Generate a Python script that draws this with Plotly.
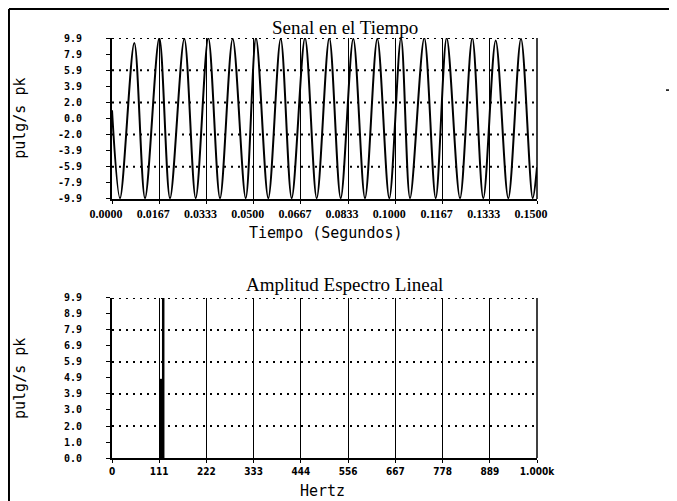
import plotly.graph_objects as go

# ---------------- data ----------------
# time signal: vertices (seconds, pulg/s pk)
time_s = [0.0000, 0.00282, 0.00787, 0.01165, 0.01669, 0.02047, 0.02552, 0.02954,
          0.03399, 0.03812, 0.04260, 0.04719, 0.05082, 0.05516, 0.05954, 0.06342,
          0.06812, 0.07225, 0.07669, 0.08072, 0.08516, 0.08929, 0.09364, 0.09787,
          0.10200, 0.10518, 0.11022, 0.11425, 0.11813, 0.12282, 0.12716, 0.13105,
          0.13542, 0.13987, 0.14435, 0.14848, 0.15000]
signal = [1.0, -9.8, 9.3, -9.8, 9.9, -9.8, 9.8, -9.8,
          9.9, -9.8, 9.8, -9.8, 9.9, -9.8, 9.8, -9.8,
          9.9, -9.8, 9.9, -9.8, 9.8, -9.8, 9.8, -9.8,
          9.9, -9.8, 9.9, -9.8, 9.9, -9.8, 9.9, -9.8,
          9.6, -9.8, 9.8, -9.8, -6.0]

# spectrum lines
freq_hz = [115.0, 120.5]
amp = [4.9, 9.9]

# axes
t_tickvals = [0.0, 0.016667, 0.033333, 0.05, 0.066667, 0.083333, 0.1, 0.116667, 0.133333, 0.15]
t_ticktext = ["0.0000", "0.0167", "0.0333", "0.0500", "0.0667", "0.0833", "0.1000", "0.1167", "0.1333", "0.1500"]
y1_tickvals = [9.9, 7.92, 5.94, 3.96, 1.98, 0.0, -1.98, -3.96, -5.94, -7.92, -9.9]
y1_ticktext = ["9.9", "7.9", "5.9", "3.9", "2.0", "0.0", "-2.0", "-3.9", "-5.9", "-7.9", "-9.9"]
y1_dotted = [9.9, 5.94, 1.98, -1.98, -5.94]

f_tickvals = [0.0, 111.1, 222.2, 333.3, 444.4, 555.6, 666.7, 777.8, 888.9, 1000.0]
f_ticktext = ["0", "111", "222", "333", "444", "556", "667", "778", "889", "1.000k"]
y2_tickvals = [9.9, 8.91, 7.92, 6.93, 5.94, 4.95, 3.96, 2.97, 1.98, 0.99, 0.0]
y2_ticktext = ["9.9", "8.9", "7.9", "6.9", "5.9", "4.9", "3.9", "3.0", "2.0", "1.0", "0.0"]
y2_dotted = [9.9, 7.92, 5.94, 3.96, 1.98]

# ---------------- figure ----------------
fig = go.Figure()
fig.add_trace(go.Scatter(x=time_s, y=signal, mode="lines",
                         line=dict(color="black", width=2, shape="spline", smoothing=0.9),
                         xaxis="x", yaxis="y", hoverinfo="skip", showlegend=False))

sx, sy = [], []
for f, a in zip(freq_hz, amp):
    sx += [f, f, None]
    sy += [0, a, None]
fig.add_trace(go.Scatter(x=sx, y=sy, mode="lines", line=dict(color="black", width=2.5),
                         xaxis="x2", yaxis="y2", hoverinfo="skip", showlegend=False))

ylab_font = dict(family="DejaVu Sans Mono", size=10, color="black", weight="bold")
common_x = dict(showgrid=True, gridcolor="black", gridwidth=1.2, showline=True,
                linecolor="black", linewidth=2, ticks="outside", ticklen=3,
                tickcolor="black", zeroline=False, tickmode="array")
common_y = dict(showgrid=False, showline=True, linecolor="black", linewidth=2,
                ticks="outside", ticklen=4, tickcolor="black", zeroline=False,
                tickmode="array", tickfont=ylab_font, ticklabelstandoff=22)

fig.update_layout(
    width=669, height=493,
    margin=dict(l=104, r=140, t=30, b=43),
    paper_bgcolor="white", plot_bgcolor="white",
    xaxis=dict(domain=[0, 1], anchor="y", range=[0, 0.15], tickvals=t_tickvals,
               ticktext=t_ticktext, ticklabelshift=-6,
               tickfont=dict(family="Liberation Serif", size=12, color="black", weight="bold"),
               **common_x),
    yaxis=dict(domain=[0.6167, 1.0], anchor="x", range=[-9.9, 9.9],
               tickvals=y1_tickvals, ticktext=y1_ticktext, **common_y),
    xaxis2=dict(domain=[0, 1], anchor="y2", range=[0, 1000], tickvals=f_tickvals,
                ticktext=f_ticktext,
                tickfont=dict(family="DejaVu Sans Condensed", size=10, color="black", weight="bold"),
                **common_x),
    yaxis2=dict(domain=[0, 0.381], anchor="x2", range=[0, 9.9],
                tickvals=y2_tickvals, ticktext=y2_ticktext, **common_y),
)

shapes = []
for v in y1_dotted:
    shapes.append(dict(type="line", xref="x domain", yref="y", x0=0, x1=1, y0=v, y1=v,
                       line=dict(color="black", width=2, dash="2px,5px")))
for v in y2_dotted:
    shapes.append(dict(type="line", xref="x2 domain", yref="y2", x0=0, x1=1, y0=v, y1=v,
                       line=dict(color="black", width=2, dash="2px,5px")))
# right edges
shapes.append(dict(type="line", xref="x domain", yref="y domain", x0=1, x1=1, y0=0, y1=1,
                   line=dict(color="black", width=1.5)))
shapes.append(dict(type="line", xref="x2 domain", yref="y2 domain", x0=1, x1=1, y0=0, y1=1,
                   line=dict(color="black", width=1.5)))
# scanned page border
shapes.append(dict(type="line", xref="paper", yref="paper", x0=-0.2424, x1=1.33,
                   y0=1.0690, y1=1.0690, line=dict(color="black", width=2)))
shapes.append(dict(type="line", xref="paper", yref="paper", x0=-0.2424, x1=-0.2424,
                   y0=1.0690, y1=-0.11, line=dict(color="black", width=2)))
shapes.append(dict(type="line", xref="paper", yref="paper", x0=1.3035, x1=1.315,
                   y0=0.876, y1=0.876, line=dict(color="black", width=1.5)))
fig.update_layout(shapes=shapes)

serif_title = dict(family="Liberation Serif", size=19, color="black")
mono_title = dict(family="DejaVu Sans Mono", size=15, color="black")
ann = [
    dict(text="Senal en el Tiempo", x=0.548, y=1.026, font=serif_title),
    dict(text="Amplitud Espectro Lineal", x=0.548, y=0.412, font=serif_title),
    dict(text="Tiempo (Segundos)", x=0.504, y=0.536, font=mono_title),
    dict(text="Hertz", x=0.496, y=-0.0786, font=mono_title),
    dict(text="pulg/s pk", x=-0.2165, y=0.81, font=mono_title, textangle=-90),
    dict(text="pulg/s pk", x=-0.2165, y=0.1905, font=mono_title, textangle=-90),
]
for a in ann:
    fig.add_annotation(xref="paper", yref="paper", xanchor="center", yanchor="middle",
                       showarrow=False, **a)

fig.write_html("out.html")
